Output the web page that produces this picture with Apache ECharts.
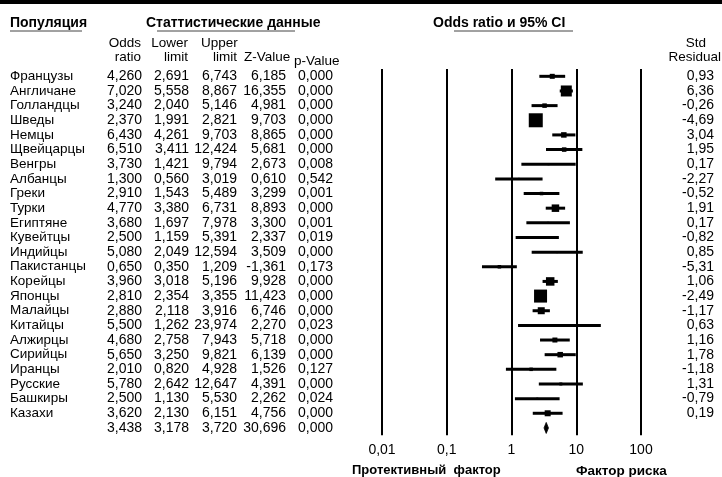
<!DOCTYPE html>
<html><head><meta charset="utf-8">
<script src="https://cdn.jsdelivr.net/npm/echarts@6/dist/echarts.min.js"></script>
<style>html,body{margin:0;padding:0;background:#fff}#c{width:722px;height:477px}</style>
</head><body><div id="c"></div>
<script>
var populations = ["Французы","Англичане","Голландцы","Шведы","Немцы","Щвейцарцы","Венгры","Албанцы","Греки","Турки","Египтяне","Кувейтцы","Индийцы","Пакистанцы","Корейцы","Японцы","Малайцы","Китайцы","Алжирцы","Сирийцы","Иранцы","Русские","Башкиры","Казахи",""];
var oddsRatio = [4.260,7.020,3.240,2.370,6.430,6.510,3.730,1.300,2.910,4.770,3.680,2.500,5.080,0.650,3.960,2.810,2.880,5.500,4.680,5.650,2.010,5.780,2.500,3.620,3.438];
var lowerLimit = [2.691,5.558,2.040,1.991,4.261,3.411,1.421,0.560,1.543,3.380,1.697,1.159,2.049,0.350,3.018,2.354,2.118,1.262,2.758,3.250,0.820,2.642,1.130,2.130,3.178];
var upperLimit = [6.743,8.867,5.146,2.821,9.703,12.424,9.794,3.019,5.489,6.731,7.978,5.391,12.594,1.209,5.196,3.355,3.916,23.974,7.943,9.821,4.928,12.647,5.530,6.151,3.720];
var zValue = [6.185,16.355,4.981,9.703,8.865,5.681,2.673,0.610,3.299,8.893,3.300,2.337,3.509,-1.361,9.928,11.423,6.746,2.270,5.718,6.139,1.526,4.391,2.262,4.756,30.696];
var pValue = [0.000,0.000,0.000,0.000,0.000,0.000,0.008,0.542,0.001,0.000,0.001,0.019,0.000,0.173,0.000,0.000,0.000,0.023,0.000,0.000,0.127,0.000,0.024,0.000,0.000];
var stdResidual = [0.93,6.36,-0.26,-4.69,3.04,1.95,0.17,-2.27,-0.52,1.91,0.17,-0.82,0.85,-5.31,1.06,-2.49,-1.17,0.63,1.16,1.78,-1.18,1.31,-0.79,0.19,null];
var weights = [5,11,4.5,14,5.5,4.5,2,2,3.5,7.5,2,2,2,3.5,8.5,13,7,2,5,5.5,3.5,3,2,6];
var xTicks = [0.01,0.1,1,10,100];

var FONT = 'Liberation Sans';
var chart = echarts.init(document.getElementById('c'), null, {renderer:'canvas'});
function fmt(v,d){ return v===null ? '' : v.toFixed(d).replace('.',','); }
var rows = populations.map(function(_,i){return String(i);});
function colAxis(labels, margin, align, pos, size){
  return {type:'category', gridIndex:0, inverse:true, position:pos||'left', data:rows,
    axisLine:{show:false}, axisTick:{show:false}, splitLine:{show:false},
    axisLabel:{show:true, interval:0, hideOverlap:false, margin:margin, align:align, color:'#000', fontFamily:FONT, fontSize:size||14,
      formatter:function(v){return labels[+v];}}};
}
var seriesData = populations.map(function(p,i){
  return [lowerLimit[i], upperLimit[i], oddsRatio[i], i, i < weights.length ? weights[i] : 0];
});
var TOPY = 69, ROWH = 14.65;
var HF = '13.5px ' + FONT;
var option = {
  animation:false,
  backgroundColor:'#fff',
  grid:{left:382, width:259, top:TOPY, height:ROWH*populations.length, containLabel:false},
  xAxis:{type:'log', logBase:10, min:xTicks[0], max:xTicks[xTicks.length-1],
    axisLine:{show:false}, axisTick:{show:false},
    splitLine:{show:true, lineStyle:{color:'#000', width:2}},
    axisLabel:{color:'#000', fontFamily:FONT, fontSize:14, margin:8,
      formatter:function(v){return String(v).replace('.',',');}}},
  yAxis:[
    colAxis(populations, 372, 'left', 'left', 13.5),
    colAxis(oddsRatio.map(function(v){return fmt(v,3);}), 240, 'right'),
    colAxis(lowerLimit.map(function(v){return fmt(v,3);}), 193, 'right'),
    colAxis(upperLimit.map(function(v){return fmt(v,3);}), 145, 'right'),
    colAxis(zValue.map(function(v){return fmt(v,3);}), 96, 'right'),
    colAxis(pValue.map(function(v){return fmt(v,3);}), 49, 'right'),
    colAxis(stdResidual.map(function(v){return fmt(v,2);}), 73, 'right', 'right')
  ],
  series:[{
    type:'custom', xAxisIndex:0, yAxisIndex:0,
    encode:{x:[0,1,2], y:3},
    data:seriesData,
    renderItem:function(params, api){
      var lo = api.value(0), hi = api.value(1), or = api.value(2), r = api.value(3), w = api.value(4);
      var pL = api.coord([lo, r]), pH = api.coord([hi, r]), pC = api.coord([or, r]);
      var y = pC[1];
      if (r === populations.length - 1) {
        return {type:'polygon', shape:{points:[[pL[0],y],[pC[0],y-5.5],[pH[0],y],[pC[0],y+5.5]]},
          style:{fill:'#000', stroke:'#000', lineWidth:0.8}};
      }
      return {type:'group', children:[
        {type:'line', shape:{x1:pL[0], y1:y, x2:pH[0], y2:y}, style:{stroke:'#000', lineWidth:3}},
        {type:'rect', shape:{x:pC[0]-w/2, y:y-w/2, width:w, height:w}, style:{fill:'#000'}}
      ]};
    }
  }],
  graphic:[
    {type:'rect', shape:{x:0,y:0,width:722,height:4}, style:{fill:'#000'}},
    {type:'text', left:10, top:16, style:{text:'Популяция', font:'bold 14px '+FONT, fill:'#000'}},
    {type:'line', shape:{x1:10,y1:31,x2:82,y2:31}, style:{stroke:'#444', lineWidth:1}},
    {type:'text', left:146, top:16, style:{text:'Статтистические данные', font:'bold 14px '+FONT, fill:'#000'}},
    {type:'line', shape:{x1:157,y1:31,x2:295,y2:31}, style:{stroke:'#444', lineWidth:1}},
    {type:'text', left:433, top:16, style:{text:'Odds ratio и 95% CI', font:'bold 14px '+FONT, fill:'#000'}},
    {type:'line', shape:{x1:454,y1:31,x2:573,y2:31}, style:{stroke:'#444', lineWidth:1}},
    {type:'text', x:141, y:36, style:{text:'Odds\nratio', align:'right', font:HF, lineHeight:14, fill:'#000'}},
    {type:'text', x:188, y:36, style:{text:'Lower\nlimit', align:'right', font:HF, lineHeight:14, fill:'#000'}},
    {type:'text', x:201, y:36, style:{text:'Upper', align:'left', font:HF, lineHeight:14, fill:'#000'}},
    {type:'text', x:237, y:50, style:{text:'limit', align:'right', font:HF, lineHeight:14, fill:'#000'}},
    {type:'text', x:244, y:50, style:{text:'Z-Value', align:'left', font:HF, lineHeight:14, fill:'#000'}},
    {type:'text', x:294, y:54, style:{text:'p-Value', align:'left', font:HF, lineHeight:14, fill:'#000'}},
    {type:'text', x:696, y:36, style:{text:'Std', align:'center', font:HF, lineHeight:14, fill:'#000'}},
    {type:'text', x:721, y:50, style:{text:'Residual', align:'right', font:HF, lineHeight:14, fill:'#000'}},
    {type:'text', x:352, y:464, style:{text:'Протективный  фактор', font:'bold 13px '+FONT, fill:'#000'}},
    {type:'text', x:576, y:464, style:{text:'Фактор риска', font:'bold 13.5px '+FONT, fill:'#000'}}
  ]
};
chart.setOption(option);
</script></body></html>
